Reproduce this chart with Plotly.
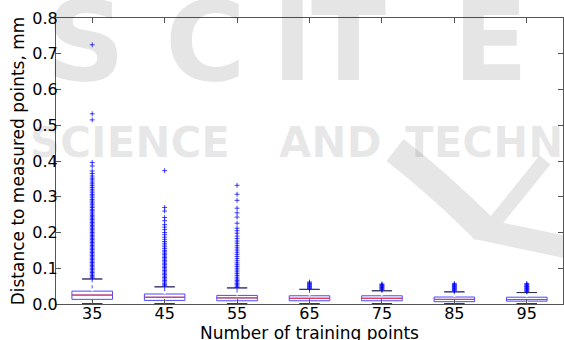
import plotly.graph_objects as go

# ---------------- data ----------------
labels = ["35", "45", "55", "65", "75", "85", "95"]
q1 = [0.013, 0.010, 0.009, 0.009, 0.009, 0.0065, 0.008]
median = [0.025, 0.019, 0.017, 0.016, 0.016, 0.013, 0.0125]
q3 = [0.036, 0.028, 0.024, 0.023, 0.023, 0.0195, 0.019]
upper_fence = [0.070, 0.048, 0.045, 0.041, 0.037, 0.034, 0.032]
lower_fence = [0.001, 0.001, 0.001, 0.001, 0.001, 0.001, 0.001]

out35 = [0.725, 0.532, 0.515, 0.396, 0.386, 0.372, 0.365, 0.358, 0.352, 0.347,
         0.341, 0.336, 0.331, 0.326, 0.321, 0.316, 0.311, 0.306, 0.302, 0.297,
         0.292, 0.288, 0.283, 0.279, 0.274, 0.270, 0.265, 0.261, 0.257, 0.252,
         0.248, 0.244, 0.240, 0.236, 0.232, 0.228, 0.224, 0.220, 0.216, 0.212,
         0.208, 0.204, 0.200, 0.196, 0.192, 0.188, 0.184, 0.180, 0.176, 0.172,
         0.168, 0.164, 0.160, 0.156, 0.152, 0.148, 0.144, 0.140, 0.136, 0.132,
         0.128, 0.124, 0.120, 0.116, 0.112, 0.108, 0.104, 0.100, 0.096, 0.092,
         0.088, 0.084, 0.080, 0.076, 0.073]
out45 = [0.373, 0.270, 0.260, 0.242, 0.233, 0.222, 0.215, 0.208, 0.200, 0.194,
         0.187, 0.181, 0.175, 0.170, 0.165, 0.160, 0.155, 0.150, 0.146, 0.142,
         0.138, 0.134, 0.130, 0.126, 0.122, 0.118, 0.114, 0.110, 0.106, 0.102,
         0.098, 0.094, 0.090, 0.086, 0.082, 0.078, 0.074, 0.070, 0.066, 0.062,
         0.058, 0.054, 0.051]
out55 = [0.332, 0.307, 0.290, 0.268, 0.255, 0.243, 0.226, 0.212, 0.205, 0.198,
         0.190, 0.183, 0.176, 0.170, 0.163, 0.157, 0.151, 0.145, 0.139, 0.133,
         0.127, 0.121, 0.115, 0.110, 0.105, 0.100, 0.095, 0.090, 0.085, 0.080,
         0.075, 0.070, 0.066, 0.062, 0.058, 0.054, 0.050, 0.047]
out65 = [0.0615, 0.059, 0.057, 0.055, 0.053, 0.051, 0.049, 0.047, 0.045, 0.043]
out75 = [0.056, 0.054, 0.052, 0.050, 0.048, 0.046, 0.044, 0.042, 0.040]
out85 = [0.057, 0.055, 0.053, 0.051, 0.049, 0.047, 0.045, 0.043, 0.041, 0.039, 0.037]
out95 = [0.057, 0.055, 0.053, 0.051, 0.049, 0.047, 0.045, 0.043, 0.041, 0.039,
         0.037, 0.035]
outliers = [out35, out45, out55, out65, out75, out85, out95]

y_ticks = [0.0, 0.1, 0.2, 0.3, 0.4, 0.5, 0.6, 0.7, 0.8]

# ---------------- figure ----------------
W, H = 564, 350          # page shows 340; the rest is cropped
ML, MR, MT = 56, 1, 18
MB = H - 304
pos = list(range(1, len(labels) + 1))
BOX_W = 0.56
FONT = "DejaVu Sans"

fig = go.Figure()

fig.add_trace(go.Box(
    x=pos, q1=q1, median=median, q3=q3,
    lowerfence=lower_fence, upperfence=upper_fence,
    width=BOX_W, whiskerwidth=0.5, boxpoints=False,
    fillcolor="rgba(0,0,0,0)", line=dict(color="#4a4aff", width=1),
    hoverinfo="skip", showlegend=False,
))

# dashed look for whiskers, medians (red) and caps (black)
wx, wy, mx, my, cx, cy = [], [], [], [], [], []
for p, a, m, b, lo, hi in zip(pos, q1, median, q3, lower_fence, upper_fence):
    wx += [p, p, None, p, p, None]
    wy += [b, hi, None, lo, a, None]
    mx += [p - BOX_W / 2, p + BOX_W / 2, None]
    my += [m, m, None]
    for f in (lo, hi):
        cx += [p - BOX_W / 4, p + BOX_W / 4, None]
        cy += [f, f, None]
fig.add_trace(go.Scatter(x=wx, y=wy, mode="lines",
                         line=dict(color="white", width=2, dash="3px,3px"),
                         hoverinfo="skip", showlegend=False))
fig.add_trace(go.Scatter(x=mx, y=my, mode="lines", line=dict(color="#ff3030", width=1),
                         hoverinfo="skip", showlegend=False))
fig.add_trace(go.Scatter(x=cx, y=cy, mode="lines", line=dict(color="#333333", width=1),
                         hoverinfo="skip", showlegend=False))

ox, oy = [], []
for p, vals in zip(pos, outliers):
    ox += [p] * len(vals)
    oy += vals
fig.add_trace(go.Scatter(
    x=ox, y=oy, mode="markers",
    marker=dict(symbol="cross-thin", size=3.5, color="blue",
                line=dict(color="rgba(0,0,255,0.75)", width=1)),
    hoverinfo="skip", showlegend=False, cliponaxis=False,
))

# ---------------- watermark ----------------
PW, PH = W - ML - MR, H - MT - MB


def px(x):
    return (x - ML) / PW


def py(y):
    return (H - MB - y) / PH


WM = "rgba(0,0,0,0.10)"
annotations = []
for letter, cxp in [("S", 85), ("C", 205), ("I", 292), ("T", 348), ("E", 490), ("P", 600)]:
    annotations.append(dict(text=letter, x=px(cxp), y=py(42), xref="paper", yref="paper",
                            showarrow=False, xanchor="center", yanchor="middle",
                            font=dict(family=FONT, size=110, color=WM, weight="bold")))
for word, left in [("SCIENCE", 28), ("AND", 277), ("TECHNOLOGY", 403)]:
    annotations.append(dict(text=word, x=px(left), y=py(142), xref="paper", yref="paper",
                            showarrow=False, xanchor="left", yanchor="middle",
                            font=dict(family=FONT, size=42, color=WM, weight="bold")))

shapes = [
    dict(type="path", xref="paper", yref="paper", layer="below",
         path=f"M {px(395)},{py(150)} Q {px(440)},{py(185)} {px(485)},{py(230)}",
         line=dict(color="#e6e6e6", width=28)),
    dict(type="path", xref="paper", yref="paper", layer="below",
         path=f"M {px(475)},{py(228)} L {px(570)},{py(248)}",
         line=dict(color="#e6e6e6", width=22)),
    dict(type="path", xref="paper", yref="paper", layer="below",
         path=f"M {px(495)},{py(222)} L {px(545)},{py(160)}",
         line=dict(color="#e6e6e6", width=14)),
]

axis_common = dict(
    showline=True, linecolor="#555555", linewidth=1, mirror="ticks",
    ticks="inside", ticklen=5, tickcolor="#555555", showgrid=False, zeroline=False,
    tickfont=dict(family=FONT, size=16, color="black"),
)

fig.update_layout(
    width=W, height=H,
    margin=dict(l=ML, r=MR, t=MT, b=MB, autoexpand=False),
    paper_bgcolor="white", plot_bgcolor="rgba(0,0,0,0)",
    font=dict(family=FONT, size=16, color="black"),
    xaxis=dict(range=[0.5, len(labels) + 0.5], tickvals=pos, ticktext=labels,
               ticklabelstandoff=-5,
               title=dict(text="Number of training points", standoff=3,
                          font=dict(family=FONT, size=17)),
               automargin=False, **axis_common),
    yaxis=dict(range=[0, 0.8], tickvals=y_ticks, tickformat=".1f",
               ticklabelstandoff=-6,
               title=dict(text="Distance to measured points, mm", standoff=3,
                          font=dict(family=FONT, size=17)),
               automargin=False, **axis_common),
    annotations=annotations, shapes=shapes,
)

fig.write_html(
    "out.html",
    config={"displayModeBar": False, "staticPlot": True},
    post_script=("document.body.style.margin='0';"
                 "document.body.style.overflow='hidden';"
                 "document.documentElement.style.overflow='hidden';"),
)
